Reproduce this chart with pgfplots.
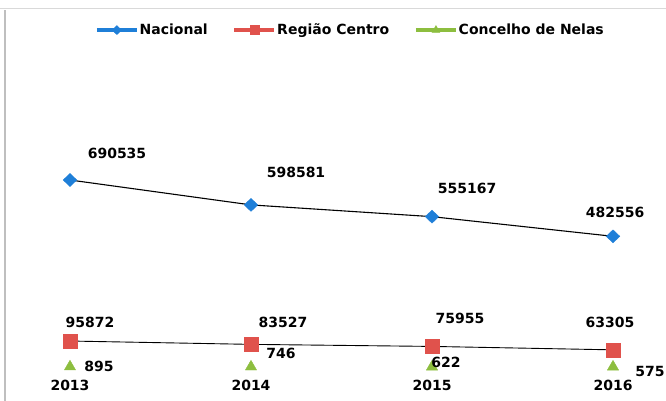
\documentclass[border=0pt]{standalone}
\usepackage{pgfplots}
\pgfplotsset{compat=1.18}
\usepackage{pgfplotstable}
\usepackage{fontspec}
\setmainfont{DejaVu Sans}
\definecolor{cnac}{HTML}{1F7FD8}
\definecolor{creg}{HTML}{E0524C}
\definecolor{ccon}{HTML}{8DBE3F}

\pgfplotstableread{
x y dx dy
0 690535 47 27
1 598581 45 32
2 555167 35 28
3 482556 2 24
}\nac
\pgfplotstableread{
x y dx dy
0 95872 20 19
1 83527 32 22
2 75955 28 28
3 63305 -3 27
}\reg
\pgfplotstableread{
x y dx dy
0 895 29 0
1 746 30 13
2 622 14 4
3 575 37 -5
}\con

\pgfplotsset{lbl/.style={nodes near coords,
 visualization depends on={\thisrow{dx}\as\dx},
 visualization depends on={\thisrow{dy}\as\dy},
 every node near coord/.style={anchor=center, xshift=\dx*1pt, yshift=\dy*1pt, text=black, inner sep=0pt}}}

\begin{document}
\begin{tikzpicture}[font=\fontsize{14}{16}\selectfont\bfseries]
\begin{axis}[
 scale only axis, width=666pt, height=401pt,
 xmin=-0.3867, xmax=3.2928, ymin=-125600, ymax=1355300,
 axis line style={draw=none},
 ytick=\empty,
 xtick={0,1,2,3}, xticklabels={2013,2014,2015,2016},
 major tick length=0pt,
 xticklabel style={anchor=center, yshift=16pt},
 clip=false,
 /pgf/number format/assume math mode=true,
 /pgf/number format/fixed, /pgf/number format/precision=0, /pgf/number format/1000 sep={},
 legend columns=-1,
 legend style={at={(0.5255,0.925)}, anchor=center, draw=none, fill=none,
   /tikz/every even column/.append style={column sep=24pt},
   /tikz/every odd column/.append style={column sep=0pt},
   nodes={inner sep=1pt}},
 legend image code/.code={%
   \draw[#1, sharp plot, mark=none, line width=3.5pt] (0pt,0pt) -- (40pt,0pt);
   \draw[#1, only marks, mark size=4.5pt] plot coordinates {(20pt,0pt)};},
]
\addplot[black, line width=1.1pt, forget plot] table[x=x,y=y]{\nac};
\addplot[black, line width=0.9pt, forget plot] table[x=x,y=y]{\reg};
\addplot[cnac, only marks, mark=diamond*, mark size=6.5pt, mark options={xscale=1.4}, lbl] table[x=x,y=y]{\nac};
\addlegendentry{Nacional}
\addplot[creg, only marks, mark=square*, mark size=7pt, lbl] table[x=x,y=y]{\reg};
\addlegendentry{Região Centro}
\addplot[ccon, only marks, mark=triangle*, mark size=6.5pt, lbl] table[x=x,y=y]{\con};
\addlegendentry{Concelho de Nelas}
\draw[gray!50, line width=1.5pt] (rel axis cs:0.0075,0) -- (rel axis cs:0.0075,0.975);
\draw[gray!30, line width=1pt] (rel axis cs:0,0.98) -- (rel axis cs:1,0.98);
\end{axis}
\pgfresetboundingbox
\path[use as bounding box] (current axis.south west) rectangle (current axis.north east);
\end{tikzpicture}
\end{document}
